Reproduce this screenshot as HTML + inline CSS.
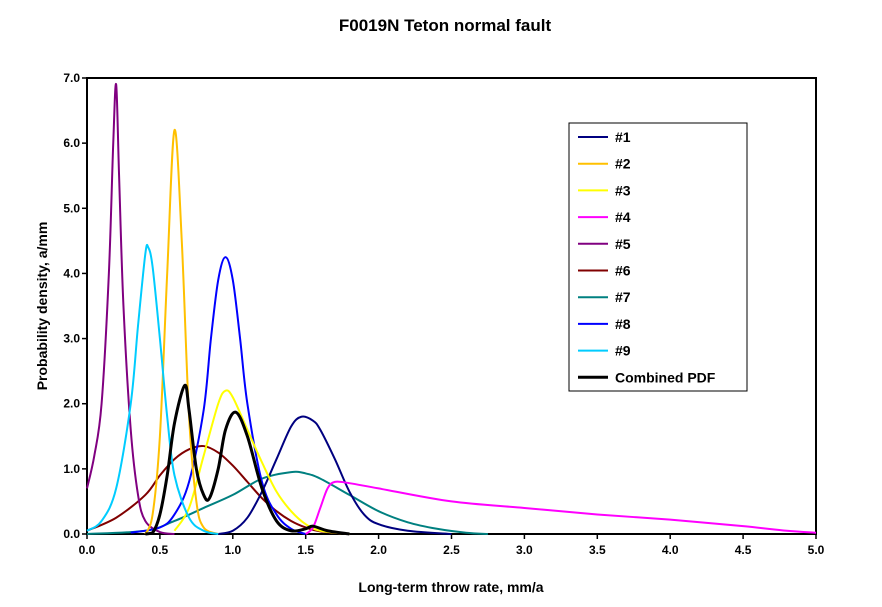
<!DOCTYPE html>
<html><head><meta charset="utf-8"><style>
body{margin:0;background:#fff}
svg text{font-family:"Liberation Sans",Arial,sans-serif;font-weight:bold}
</style></head><body>
<svg width="882" height="602" viewBox="0 0 882 602">
<rect width="882" height="602" fill="#fff"/>
<text x="445" y="31" text-anchor="middle" font-size="17">F0019N Teton normal fault</text>
<g id="plot"></g>
<text x="451" y="592" text-anchor="middle" font-size="14">Long-term throw rate, mm/a</text>
<text transform="translate(47,306) rotate(-90)" text-anchor="middle" font-size="14">Probability density, a/mm</text>
<g id="legend"></g>
</svg>
<script>
const xTicks=[0,0.5,1,1.5,2,2.5,3,3.5,4,4.5,5];
const yTicks=[0,1,2,3,4,5,6,7];
const seriesNames=["#1","#2","#3","#4","#5","#6","#7","#8","#9","Combined PDF"];
const seriesColors=["#000080","#FFC000","#FFFF00","#FF00FF","#800080","#800000","#008080","#0000FF","#00CCFF","#000000"];
const s1x=[0.9,1.0,1.1,1.2,1.3,1.4,1.47,1.55,1.6,1.7,1.8,1.9,2.0,2.2,2.5];
const s1y=[0,0.05,0.25,0.65,1.15,1.65,1.8,1.74,1.6,1.15,0.65,0.3,0.15,0.05,0];
const s2x=[0.4,0.45,0.5,0.55,0.6,0.65,0.7,0.75,0.8,0.9];
const s2y=[0,0.3,1.5,4.0,6.2,4.5,1.8,0.5,0.1,0];
const s3x=[0.6,0.7,0.8,0.9,0.95,1.0,1.1,1.2,1.3,1.4,1.5,1.6,1.8];
const s3y=[0.05,0.4,1.2,2.0,2.2,2.1,1.6,1.1,0.65,0.35,0.15,0.05,0];
const s4x=[1.5,1.55,1.6,1.65,1.7,1.8,2.0,2.5,3.0,3.5,4.0,4.5,4.8,5.0];
const s4y=[0,0.1,0.4,0.7,0.8,0.78,0.7,0.5,0.4,0.3,0.22,0.12,0.05,0.02];
const s5x=[0,0.05,0.1,0.15,0.18,0.2,0.22,0.25,0.3,0.35,0.4,0.5,0.6];
const s5y=[0.7,1.2,2.0,4.0,6.0,6.9,5.5,3.5,1.6,0.6,0.2,0.03,0];
const s6x=[0,0.2,0.4,0.5,0.6,0.7,0.8,0.9,1.0,1.1,1.2,1.3,1.4,1.5,1.6,1.8];
const s6y=[0.05,0.25,0.6,0.9,1.15,1.3,1.35,1.25,1.05,0.8,0.55,0.35,0.2,0.1,0.04,0];
const s7x=[0,0.4,0.6,0.8,1.0,1.2,1.4,1.5,1.6,1.8,2.0,2.2,2.4,2.6,2.75];
const s7y=[0,0.05,0.2,0.4,0.6,0.85,0.95,0.93,0.85,0.6,0.35,0.18,0.08,0.02,0];
const s8x=[0.3,0.5,0.6,0.7,0.8,0.85,0.9,0.95,1.0,1.05,1.1,1.2,1.3,1.4,1.5];
const s8y=[0.02,0.1,0.3,0.8,1.9,3.0,3.9,4.25,3.9,3.0,2.0,0.8,0.3,0.08,0];
const s9x=[0,0.1,0.2,0.3,0.35,0.4,0.42,0.45,0.5,0.55,0.6,0.7,0.8,0.9];
const s9y=[0.05,0.2,0.7,2.0,3.2,4.3,4.4,4.1,3.0,1.8,0.9,0.25,0.05,0];
const sCx=[0.4,0.45,0.5,0.55,0.6,0.67,0.7,0.75,0.8,0.84,0.9,0.95,1.02,1.1,1.2,1.3,1.4,1.5,1.55,1.65,1.8];
const sCy=[0,0.02,0.3,0.9,1.7,2.28,1.9,1.0,0.6,0.55,1.0,1.6,1.87,1.5,0.7,0.2,0.05,0.08,0.12,0.05,0];
const allX=[s1x,s2x,s3x,s4x,s5x,s6x,s7x,s8x,s9x,sCx];
const allY=[s1y,s2y,s3y,s4y,s5y,s6y,s7y,s8y,s9y,sCy];
const NS="http://www.w3.org/2000/svg";
const L=87,R=816,T=78,B=534,xMax=5,yMax=7;
function xs(v){return L+v/xMax*(R-L);}
function ys(v){return B-v/yMax*(B-T);}
function mk(tag,attrs,parent){const e=document.createElementNS(NS,tag);for(const k in attrs)e.setAttribute(k,attrs[k]);parent.appendChild(e);return e;}
const plot=document.getElementById('plot');
const fr=mk('rect',{x:L,y:T,width:R-L,height:B-T,fill:'none',stroke:'#000','stroke-width':2},plot);


xTicks.forEach(v=>{
 const t=mk('line',{x1:xs(v),x2:xs(v),y1:B,y2:B+5,stroke:'#000','stroke-width':1.5},plot);
 
 
 const lb=mk('text',{x:xs(v),y:B+20,'text-anchor':'middle','font-size':12},plot);
 lb.textContent=v.toFixed(1);
 
 
});
yTicks.forEach(v=>{
 const t=mk('line',{x1:L-5,x2:L,y1:ys(v),y2:ys(v),stroke:'#000','stroke-width':1.5},plot);
 
 
 const lb=mk('text',{x:L-7,y:ys(v)+4,'text-anchor':'end','font-size':12},plot);
 lb.textContent=v.toFixed(1);
 
 
});
function smoothPath(xa,ya){
 const p=xa.map((x,i)=>[xs(x),ys(ya[i])]);
 let d='M'+p[0][0]+','+p[0][1];
 for(let i=0;i<p.length-1;i++){
  const p0=p[i-1]||p[i],p1=p[i],p2=p[i+1],p3=p[i+2]||p2;
  const c1=[p1[0]+(p2[0]-p0[0])/6,p1[1]+(p2[1]-p0[1])/6];
  const c2=[p2[0]-(p3[0]-p1[0])/6,p2[1]-(p3[1]-p1[1])/6];
  c1[1]=Math.min(c1[1],B);c2[1]=Math.min(c2[1],B);
  d+=' C'+c1[0]+','+c1[1]+' '+c2[0]+','+c2[1]+' '+p2[0]+','+p2[1];
 }
 return d;
}
const order=[5,6,4,7,0,2,3,1,8,9];
order.forEach(i=>{
 const path=mk('path',{d:smoothPath(allX[i],allY[i]),fill:'none',stroke:seriesColors[i],'stroke-width':i===9?3:2,'stroke-linejoin':'round'},plot);
 
 
});
const lg=document.getElementById('legend');
const box=mk('rect',{x:569,y:123,width:178,height:268,fill:'#fff',stroke:'#000','stroke-width':1},lg);


seriesNames.forEach((n,i)=>{
 const y=137+i*26.7;
 const g=mk('g',{},lg);
 
 
 mk('line',{x1:578,x2:608,y1:y,y2:y,stroke:seriesColors[i],'stroke-width':i===9?3:2},g);
 const t=mk('text',{x:615,y:y+5,'font-size':14},g);
 t.textContent=n;
});
</script>
</body></html>
